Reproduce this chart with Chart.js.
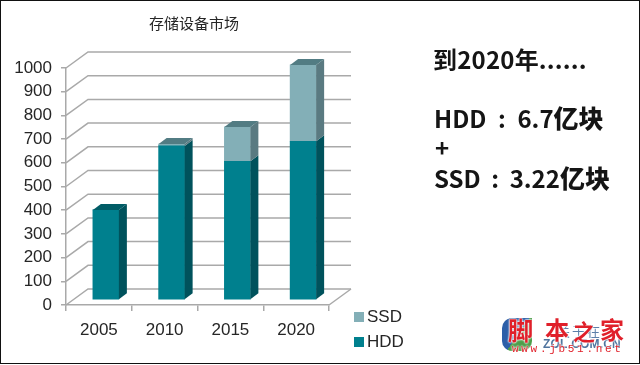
<!DOCTYPE html>
<html>
<head>
<meta charset="utf-8">
<script src="https://cdn.jsdelivr.net/npm/chart.js@4"></script>
<style>
  html, body { margin: 0; padding: 0; background: #fff; }
  #wrap { position: relative; width: 640px; height: 365px; overflow: hidden; }
  #frame { position: absolute; left: 0; top: 0; width: 640px; height: 364px; box-sizing: border-box; border: 1.5px solid #111; }
  .note { position: absolute; font: bold 24px "Noto Sans CJK SC", sans-serif; color: #151515; white-space: nowrap; line-height: 30px; }
  .note i { font-style: normal; display: inline-block; text-align: center; }
  .note b { font-size: 25px; }
  .mark { position: absolute; white-space: nowrap; }
  .red { color: #e0202a; text-shadow: 0 0 2px #fff, 0 0 2px #fff, 0 0 2px #fff; }
  #logo { position: absolute; left: 502px; top: 318px; width: 30px; height: 33px; background: linear-gradient(125deg, #2c5fa8 0 52%, #4d9e4a 52% 100%); border-radius: 10px 0 10px 10px; }
</style>
</head>
<body>
<div id="wrap">
  <canvas id="market-chart" width="640" height="365"></canvas>
  <div class="note" style="left:433px;top:44px;letter-spacing:0.2px">到2020年......</div>
  <div class="note" style="left:434px;top:102px">HDD<i style="width:31px">:</i>6.7<b>亿块</b></div>
  <div class="note" style="left:435px;top:132px">+</div>
  <div class="note" style="left:434px;top:162px">SSD<i style="width:29px">:</i>3.22<b>亿块</b></div>
  <div id="logo"></div>
  <div class="mark" style="left:557px;top:322px;font:13px 'Noto Sans CJK SC';color:#5c7fa8;letter-spacing:2px;line-height:18px">关于在</div>
  <div class="mark" style="left:543px;top:337px;font:bold 12px 'Liberation Sans';color:#4f749e;letter-spacing:0.2px">ZOL.COM.CN</div>
  <div class="mark red" style="left:508px;top:313px;font:bold 25px 'Noto Sans CJK SC';line-height:32px">脚</div>
  <div class="mark red" style="left:545px;top:313px;font:bold 24px 'Noto Sans CJK SC';line-height:32px">本</div>
  <div class="mark red" style="left:573px;top:316px;font:bold 22px 'Noto Sans CJK SC';line-height:28px">之</div>
  <div class="mark red" style="left:600px;top:313px;font:bold 24px 'Noto Sans CJK SC';line-height:32px">家</div>
  <div class="mark red" style="left:512px;top:343px;font:11px 'Liberation Mono';letter-spacing:2.7px">www.jb51.net</div>
  <div id="frame"></div>
</div>
<script>
const chartTitle = '存储设备市场';
const years = ['2005', '2010', '2015', '2020'];
const hddValues = [380, 650, 585, 670];
const ssdValues = [0, 8, 145, 322];
const yTicks = [0, 100, 200, 300, 400, 500, 600, 700, 800, 900, 1000];

const gridColor = '#a9a9a9';
const textColor = '#262626';
const faces = [
  { front: '#00808e', side: '#00525c', top: '#005c66' },
  { front: '#83afb7', side: '#5a7a81', top: '#527c83' }
];

// depth of the fake 3d box
const wallDx = 22, wallDy = 16;
const barDx = 7, barDy = 5;
const sideDx = 8, sideDy = 6;

function poly(ctx, color, pts) {
  ctx.fillStyle = color;
  ctx.beginPath();
  pts.forEach((p, i) => i ? ctx.lineTo(p[0], p[1]) : ctx.moveTo(p[0], p[1]));
  ctx.closePath();
  ctx.fill();
}

const box3d = {
  id: 'box3d',
  beforeDatasetsDraw(chart) {
    const { ctx, chartArea: a, scales: { y } } = chart;
    ctx.save();
    ctx.strokeStyle = gridColor;
    ctx.lineWidth = 1.5;
    yTicks.forEach(v => {
      const py = y.getPixelForValue(v);
      ctx.beginPath();
      ctx.moveTo(a.left, py);
      ctx.lineTo(a.left + wallDx, py - wallDy);
      ctx.lineTo(a.right + wallDx, py - wallDy);
      ctx.stroke();
    });
    ctx.beginPath();
    ctx.moveTo(a.right, a.bottom);
    ctx.lineTo(a.right + wallDx, a.bottom - wallDy);
    ctx.stroke();
    ctx.restore();
    ctx.save();
    ctx.translate(barDx, -barDy);
  },
  afterDatasetsDraw(chart) {
    const { ctx, data } = chart;
    // still translated from beforeDatasetsDraw
    data.datasets.forEach((ds, d) => {
      chart.getDatasetMeta(d).data.forEach((bar, i) => {
        if (!ds.data[i]) return;
        const r = bar.x + bar.width / 2, l = bar.x - bar.width / 2;
        poly(ctx, faces[d].side, [[r, bar.y], [r + sideDx, bar.y - sideDy], [r + sideDx, bar.base - sideDy], [r, bar.base]]);
        const above = data.datasets.slice(d + 1).some(o => o.data[i]);
        if (!above) {
          poly(ctx, faces[d].top, [[l, bar.y], [l + sideDx, bar.y - sideDy], [r + sideDx, bar.y - sideDy], [r, bar.y]]);
        }
      });
    });
    ctx.restore();
  },
  afterDraw(chart) {
    const { ctx, data } = chart;
    ctx.save();
    ctx.fillStyle = textColor;
    ctx.textAlign = 'center';
    ctx.textBaseline = 'middle';
    ctx.font = '15px "Noto Sans CJK SC"';
    ctx.fillText(chartTitle, 194, 23);
    // legend, top item is the upper stack
    ctx.textAlign = 'left';
    ctx.font = '17px "Liberation Sans"';
    [1, 0].forEach((d, row) => {
      const ly = 317 + row * 25;
      ctx.fillStyle = faces[d].front;
      ctx.fillRect(354, ly - 5, 10, 10);
      ctx.fillStyle = textColor;
      ctx.fillText(data.datasets[d].label, 367, ly);
    });
    ctx.restore();
  }
};

new Chart(document.getElementById('market-chart').getContext('2d'), {
  type: 'bar',
  data: {
    labels: years,
    datasets: [
      { label: 'HDD', data: hddValues, backgroundColor: faces[0].front, barThickness: 26 },
      { label: 'SSD', data: ssdValues, backgroundColor: faces[1].front, barThickness: 26 }
    ]
  },
  plugins: [box3d],
  options: {
    responsive: false,
    animation: false,
    layout: { padding: { left: 0, right: 311, top: 68, bottom: 0 } },
    plugins: {
      legend: { display: false },
      title: { display: false },
      tooltip: { enabled: false }
    },
    scales: {
      x: {
        stacked: true,
        afterFit: s => { s.height = 60; },
        grid: { drawOnChartArea: false, color: gridColor, lineWidth: 1.5, tickLength: 6 },
        border: { color: gridColor, width: 1.5 },
        ticks: { color: textColor, font: { family: 'Liberation Sans', size: 17 }, padding: 9, maxRotation: 0 }
      },
      y: {
        stacked: true,
        min: 0,
        max: 1000,
        afterFit: s => { s.width = 66; },
        grid: { drawOnChartArea: false, color: gridColor, lineWidth: 1.5, tickLength: 5 },
        border: { color: gridColor, width: 1.5 },
        ticks: { stepSize: 100, color: textColor, font: { family: 'Liberation Sans', size: 17 }, padding: 9, callback: v => String(v) }
      }
    }
  }
});
</script>
</body>
</html>
